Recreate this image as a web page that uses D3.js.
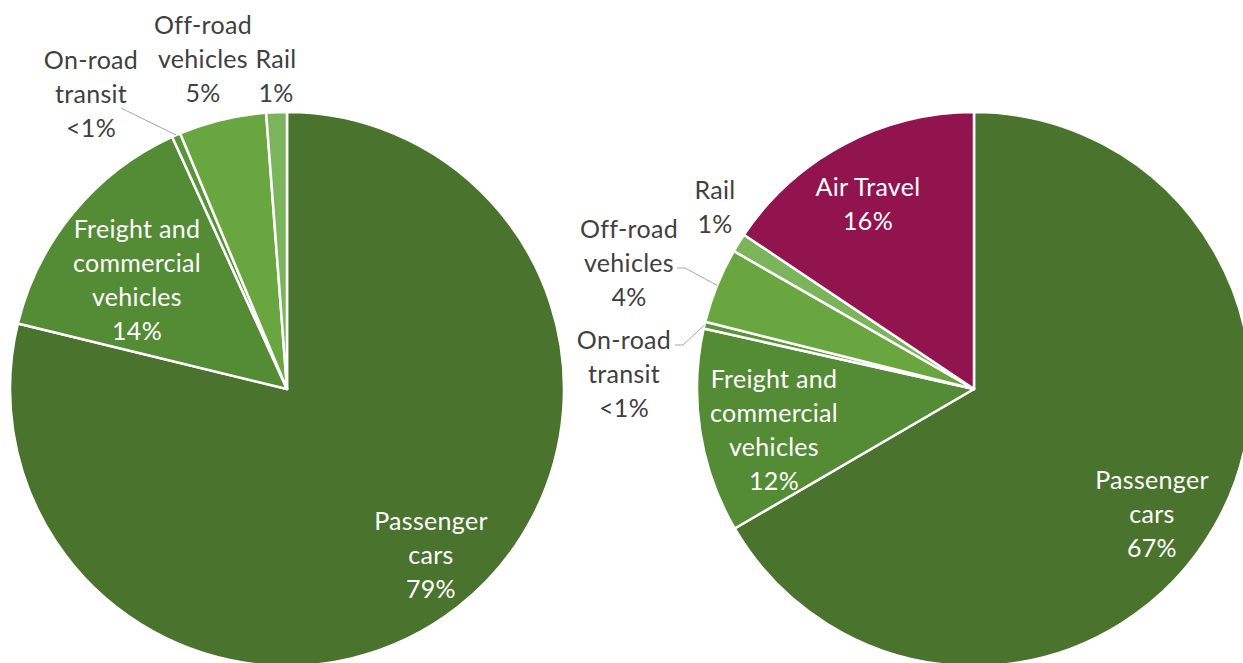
<!DOCTYPE html>
<html>
<head>
<meta charset="utf-8">
<script src="https://cdn.jsdelivr.net/npm/d3@7"></script>
<style>
  html, body { margin: 0; padding: 0; background: #ffffff; }
  svg { display: block; }
  text { font-family: Lato, "Open Sans", sans-serif; font-size: 25px; letter-spacing: 0.3px; }
</style>
</head>
<body>
<svg id="chart" width="1243" height="663"></svg>
<script>
// Share of transportation emissions by mode (%), two breakdowns
const leftCategories = ["Passenger cars", "Freight and commercial vehicles", "On-road transit", "Off-road vehicles", "Rail"];
const leftValues = [78.8, 14.4, 0.5, 5.1, 1.2];

const rightCategories = ["Passenger cars", "Freight and commercial vehicles", "On-road transit", "Off-road vehicles", "Rail", "Air Travel"];
const rightValues = [66.6, 11.9, 0.4, 4.4, 1.1, 15.6];

// Wrapped label text for each category
const labelText = {
  "Passenger cars": ["Passenger", "cars"],
  "Freight and commercial vehicles": ["Freight and", "commercial", "vehicles"],
  "On-road transit": ["On-road", "transit"],
  "Off-road vehicles": ["Off-road", "vehicles"],
  "Rail": ["Rail"],
  "Air Travel": ["Air Travel"]
};

const colors = {
  "Passenger cars": "#4a732e",
  "Freight and commercial vehicles": "#548b35",
  "On-road transit": "#5a9439",
  "Off-road vehicles": "#6aa640",
  "Rail": "#7bb45b",
  "Air Travel": "#91144e"
};

const pct = v => v < 1 ? "<1%" : Math.round(v) + "%";

const svg = d3.select("#chart");
const R = 277;
const lineH = 34;

// Label placement relative to each pie's centre; leader lines run from
// the given start to the slice's outer edge.
const pies = [
  {
    cx: 287, cy: 389,
    categories: leftCategories, values: leftValues,
    labels: {
      "Passenger cars": { dx: 144, dy: 165, inside: true },
      "Freight and commercial vehicles": { dx: -150, dy: -110, inside: true },
      "On-road transit": { dx: -196, dy: -296, leader: [[-166, -281]] },
      "Off-road vehicles": { dx: -84, dy: -331 },
      "Rail": { dx: -11, dy: -314 }
    }
  },
  {
    cx: 974, cy: 389,
    categories: rightCategories, values: rightValues,
    labels: {
      "Passenger cars": { dx: 178, dy: 124, inside: true },
      "Freight and commercial vehicles": { dx: -200, dy: 40, inside: true },
      "On-road transit": { dx: -350, dy: -16, leader: [[-299, -44], [-291, -44]] },
      "Off-road vehicles": { dx: -345, dy: -127, leader: [[-297, -121], [-289, -121]] },
      "Rail": { dx: -259, dy: -183 },
      "Air Travel": { dx: -106, dy: -186, inside: true }
    }
  }
];

const pie = d3.pie().sort(null).value(d => d.value).startAngle(0).endAngle(2 * Math.PI);
const arc = d3.arc().innerRadius(0).outerRadius(R);

pies.forEach(p => {
  const data = p.categories.map((c, i) => ({ category: c, value: p.values[i] }));
  const arcs = pie(data);
  const g = svg.append("g").attr("transform", `translate(${p.cx},${p.cy})`);

  g.selectAll("path.slice")
    .data(arcs)
    .join("path")
    .attr("class", "slice")
    .attr("d", arc)
    .attr("fill", d => colors[d.data.category])
    .attr("stroke", "#ffffff")
    .attr("stroke-width", 2.5)
    .attr("stroke-linejoin", "round");

  arcs.forEach(a => {
    const cfg = p.labels[a.data.category];
    if (!cfg) return;
    const lines = labelText[a.data.category].concat([pct(a.data.value)]);

    if (cfg.leader) {
      const mid = (a.startAngle + a.endAngle) / 2;
      const edge = [R * Math.sin(mid), -R * Math.cos(mid)];
      g.append("path")
        .attr("d", d3.line()(cfg.leader.concat([edge])))
        .attr("fill", "none")
        .attr("stroke", "#a6a6a6")
        .attr("stroke-width", 1);
    }

    const t = g.append("text")
      .attr("text-anchor", "middle")
      .attr("fill", cfg.inside ? "#ffffff" : "#404040");
    lines.forEach((ln, i) => {
      t.append("tspan")
        .attr("x", cfg.dx)
        .attr("y", cfg.dy + (i - (lines.length - 1) / 2) * lineH)
        .attr("dominant-baseline", "central")
        .text(ln);
    });
  });
});
</script>
</body>
</html>
